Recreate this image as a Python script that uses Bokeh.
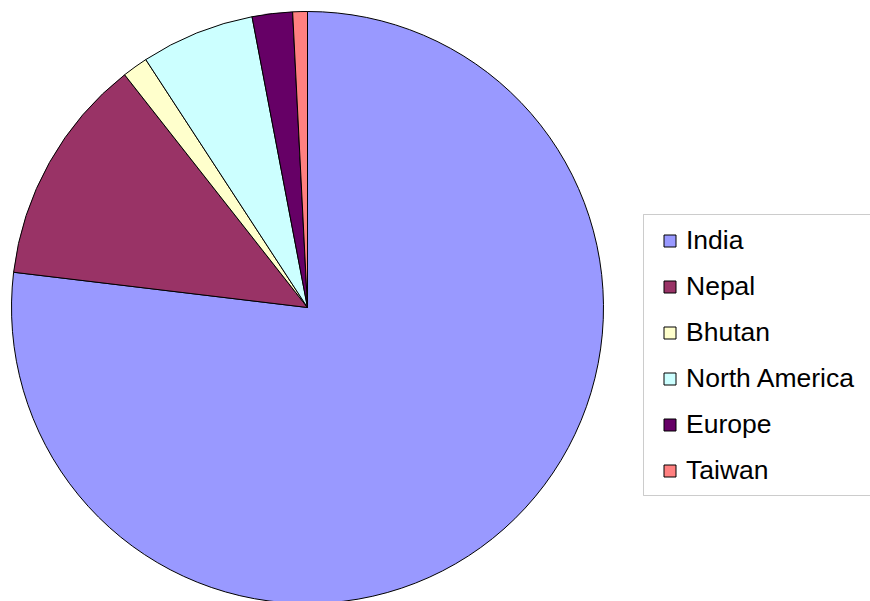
import numpy as np
from bokeh.plotting import figure
from bokeh.models import ColumnDataSource, Range1d, Legend, LegendItem, BoxAnnotation
from bokeh.embed import file_html
from bokeh.resources import INLINE

# ---- data ----
regions = ["India", "Nepal", "Bhutan", "North America", "Europe", "Taiwan"]
shares = [76.9, 12.5, 1.4, 6.2, 2.2, 0.8]
colors = ["#9999FF", "#993366", "#FFFFCC", "#CCFFFF", "#660066", "#FF8080"]

# ---- layout ----
W, H = 870, 601
CX, CY, R = 307, H - 307, 296

vals = np.array(shares, dtype=float)
frac = vals / vals.sum() * 2 * np.pi
cum = np.cumsum(frac)
start = np.pi / 2 - (cum - frac)
end = np.pi / 2 - cum

src = ColumnDataSource(dict(region=regions, share=shares, color=colors,
                            start=start, end=end))

p = figure(width=W, height=H, output_backend="svg", toolbar_location=None,
           x_range=Range1d(0, W), y_range=Range1d(0, H), min_border=0)
p.axis.visible = False
p.grid.visible = False
p.outline_line_color = None
p.background_fill_color = "white"

r = p.wedge(x=CX, y=CY, radius=R, start_angle="start", end_angle="end",
            direction="clock", fill_color="color", line_color="black",
            line_width=1, source=src)

# legend frame (screen units, y measured from bottom)
box = BoxAnnotation(left=643, right=890, top=H - 214, bottom=H - 495,
                    left_units="screen", right_units="screen",
                    top_units="screen", bottom_units="screen",
                    fill_color="white", fill_alpha=1.0,
                    line_color="#555555", line_width=1, level="overlay")
p.add_layout(box)

items = [LegendItem(label=regions[i], renderers=[r], index=i) for i in range(len(regions))]
legend = Legend(items=items, location=(643, 96), orientation="vertical",
                label_text_font="Liberation Sans", label_text_font_size="26.5px",
                label_text_color="black", glyph_width=15, glyph_height=15,
                label_height=29, label_standoff=9, spacing=15, padding=19,
                border_line_alpha=0, background_fill_alpha=0, margin=0)
p.add_layout(legend, "center")

open("out.html", "w").write(file_html(p, INLINE))
